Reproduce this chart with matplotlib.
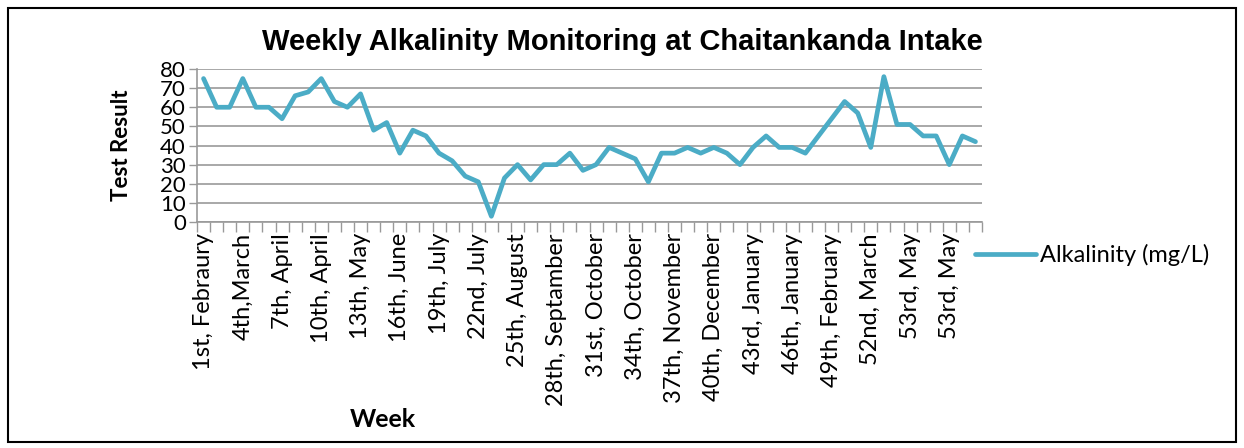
import numpy as np
import matplotlib
matplotlib.use('Agg')
import matplotlib.pyplot as plt
from matplotlib.patches import Rectangle

# weekly alkalinity readings (mg/L)
alkalinity = [75, 60, 60, 75, 60, 60, 54, 66, 68, 75,
              63, 60, 67, 48, 52, 36, 48, 45, 36, 32,
              24, 21, 3, 23, 30, 22, 30, 30, 36, 27,
              30, 39, 36, 33, 21, 36, 36, 39, 36, 39,
              36, 30, 39, 45, 39, 39, 36, 45, 54, 63,
              57, 39, 76, 51, 51, 45, 45, 30, 45, 42]

week_labels = ['1st, Febraury', '4th,March', '7th, April', '10th, April',
               '13th, May', '16th, June', '19th, July', '22nd, July',
               '25th, August', '28th, Septamber', '31st, October',
               '34th, October', '37th, November', '40th, December',
               '43rd, January', '46th, January', '49th, February',
               '52nd, March', '53rd, May', '53rd, May']

plt.rcParams['font.family'] = ['Lato', 'DejaVu Sans']

fig = plt.figure(figsize=(12.44, 4.48), dpi=100)
ax = fig.add_axes([197 / 1244, 1 - 222 / 448, (982 - 197) / 1244, (222 - 69) / 448])

x = np.arange(len(alkalinity))
ax.plot(x, alkalinity, color='#4BACC6', linewidth=3.4, label='Alkalinity (mg/L)',
        solid_joinstyle='round', solid_capstyle='round')

ax.set_xlim(-0.5, len(alkalinity) - 0.5)
ax.set_ylim(0, 80)
ax.set_yticks(range(0, 81, 10))
ax.yaxis.grid(True, color='#999999', linewidth=1.2)
ax.set_axisbelow(True)

# category labels every third week, tick marks between categories
ax.set_xticks(x[::3])
ax.set_xticklabels(week_labels, rotation=90, fontsize=17)
ax.set_xticks(np.arange(-0.5, len(alkalinity), 1), minor=True)
ax.tick_params(axis='x', which='major', length=0, pad=8)
ax.tick_params(axis='x', which='minor', length=7, color='#999999', width=1)
ax.tick_params(axis='y', length=6, color='#999999', width=1, labelsize=16, pad=2)

for side in ['top', 'right']:
    ax.spines[side].set_visible(False)
for side in ['left', 'bottom']:
    ax.spines[side].set_color('#999999')
    ax.spines[side].set_linewidth(1.2)

ax.set_ylabel('Test Result', fontsize=16, fontweight='bold')
ax.yaxis.set_label_coords(-(197 - 132) / (982 - 197), 0.5)
ax.set_xlabel('Week', fontsize=18, fontweight='bold')
ax.xaxis.set_label_coords((383 - 197) / (982 - 197), -(408 - 222) / (222 - 69))

fig.text(0.5, 1 - 42 / 448, 'Weekly Alkalinity Monitoring at Chaitankanda Intake',
         ha='center', va='center', fontsize=21, fontweight='bold',
         family=['Liberation Sans', 'DejaVu Sans'])

ax.legend(loc='center left', bbox_to_anchor=(975 / 1244, 1 - 255 / 448),
          bbox_transform=fig.transFigure, frameon=False, fontsize=17,
          handlelength=2.6, handletextpad=0.15, borderpad=0, borderaxespad=0)

fig.patches.append(Rectangle((8 / 1244, 6 / 448), 1228 / 1244, 434 / 448,
                             transform=fig.transFigure, fill=False,
                             edgecolor='black', linewidth=1.5))

fig.savefig('out.png', dpi=100)
